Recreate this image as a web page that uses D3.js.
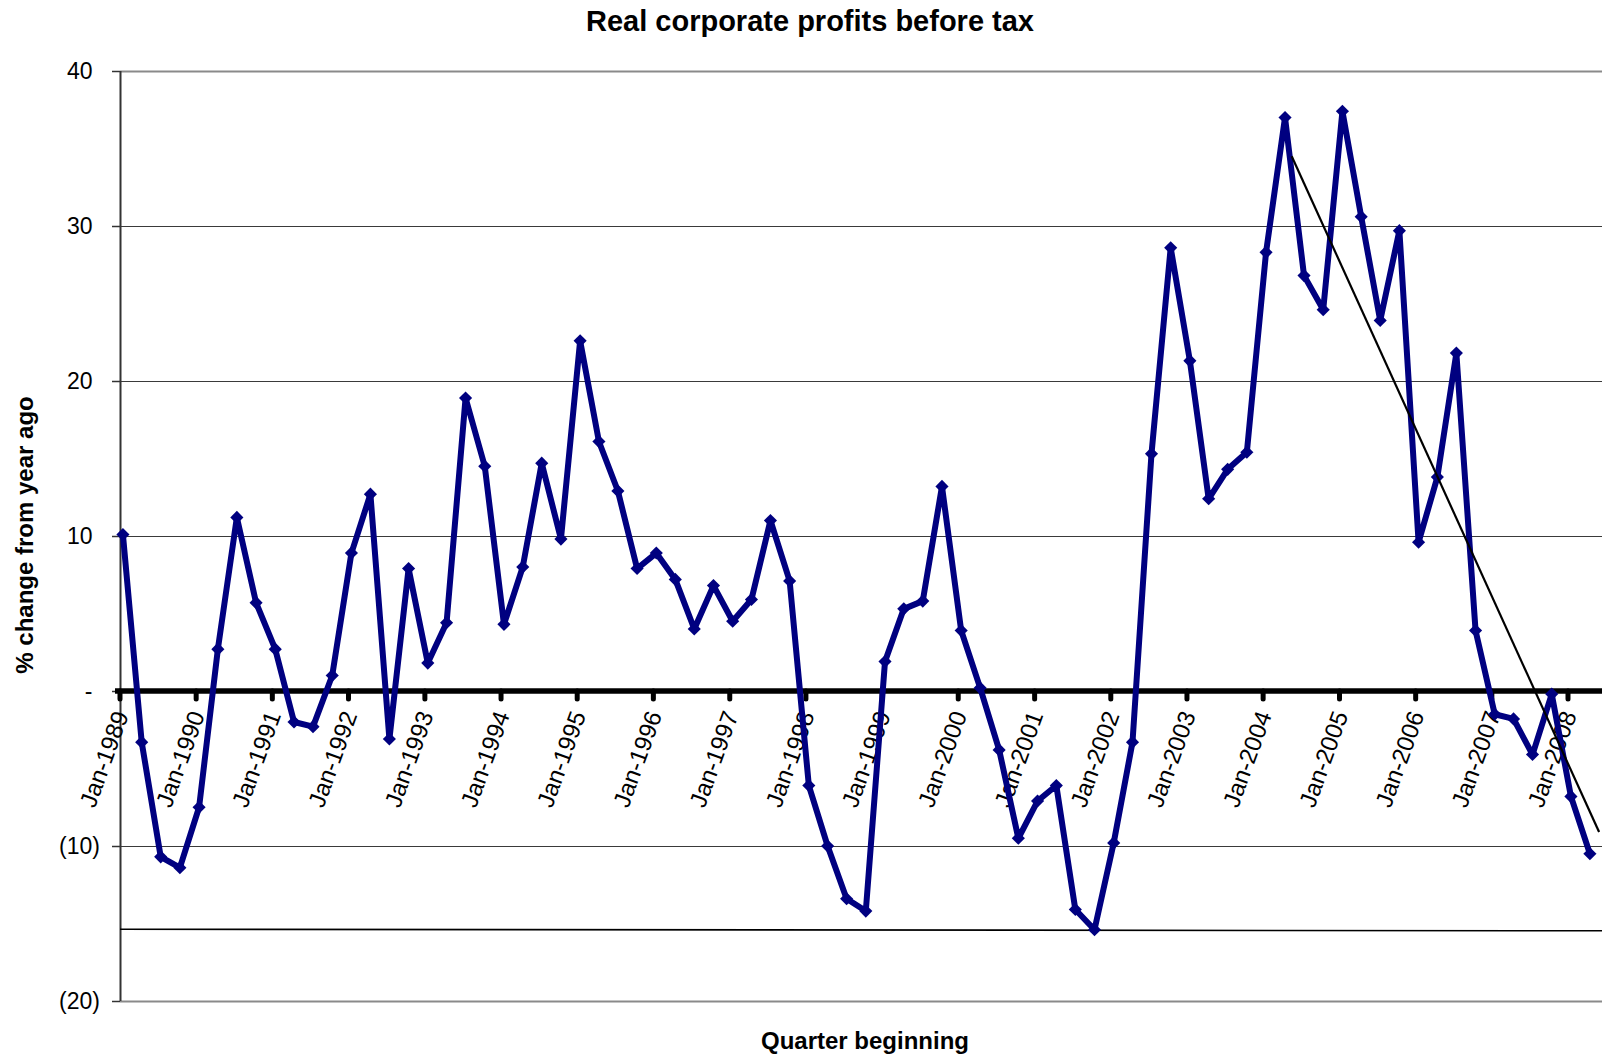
<!DOCTYPE html>
<html>
<head>
<meta charset="utf-8">
<script src="https://cdn.jsdelivr.net/npm/d3@7"></script>
<style>
  body { margin: 0; background: #fff; }
  svg { display: block; font-family: Arial, "Liberation Sans", sans-serif; }
</style>
</head>
<body>
<div id="chart"></div>
<script>
// quarterly % change from year ago, one value per quarter from Jan-1989 to Apr-2008
var values = [
  10.1, -3.3, -10.7, -11.4, -7.5, 2.7, 11.2, 5.7, 2.7, -2.0,
  -2.3, 1.0, 8.9, 12.7, -3.1, 7.9, 1.8, 4.4, 18.9, 14.5,
  4.3, 8.0, 14.7, 9.8, 22.6, 16.1, 12.9, 7.9, 8.9, 7.2,
  4.0, 6.8, 4.5, 5.9, 11.0, 7.1, -6.1, -10.0, -13.4, -14.2,
  1.9, 5.3, 5.8, 13.2, 3.9, 0.2, -3.8, -9.5, -7.1, -6.1,
  -14.1, -15.4, -9.8, -3.3, 15.3, 28.6, 21.3, 12.4, 14.3, 15.4,
  28.3, 37.0, 26.8, 24.6, 37.4, 30.6, 23.9, 29.7, 9.6, 13.8,
  21.8, 3.9, -1.5, -1.8, -4.1, -0.2, -6.8, -10.5
];

var tickLabels = [
  "Jan-1989", "Jan-1990", "Jan-1991", "Jan-1992", "Jan-1993",
  "Jan-1994", "Jan-1995", "Jan-1996", "Jan-1997", "Jan-1998",
  "Jan-1999", "Jan-2000", "Jan-2001", "Jan-2002", "Jan-2003",
  "Jan-2004", "Jan-2005", "Jan-2006", "Jan-2007", "Jan-2008"
];

var yTicks = [40, 30, 20, 10, 0, -10, -20];

// straight lines drawn over the chart (date, value)
var trendLine = [{date: "2004-05-17", v: 34.5}, {date: "2008-05-29", v: -9.1}];
var floorLine = [{date: "1989-01-01", v: -15.37}, {date: "2008-06-13", v: -15.47}];

var width = 1602;
var height = 1056;
var parse = d3.timeParse("%Y-%m-%d");

var svg = d3.select("#chart")
  .append("svg")
    .attr("width", width)
    .attr("height", height);

var x = d3.scaleTime()
  .domain([parse("1989-01-01"), parse("2008-01-01")])
  .range([120, 1568]);

var y = d3.scaleLinear()
  .domain([-20, 40])
  .range([1001, 71]);

function fmt(v) {
  if (v === 0) return "-";
  if (v < 0) return "(" + Math.abs(v) + ")";
  return String(v);
}

// points dated mid first month of each quarter
var pts = values.map(function (v, i) {
  return {date: d3.timeMonth.offset(parse("1989-01-15"), 3 * i), v: v};
});
var tickDates = tickLabels.map(function (d, i) {
  return d3.timeYear.offset(parse("1989-01-01"), i);
});
trendLine.forEach(function (d) { d.date = parse(d.date); });
floorLine.forEach(function (d) { d.date = parse(d.date); });

// gridlines
svg.append("g")
  .selectAll("line")
  .data(yTicks.filter(function (d) { return d !== 0; }))
  .enter()
  .append("line")
    .attr("x1", x.range()[0])
    .attr("x2", width)
    .attr("y1", function (d) { return y(d) + 0.5; })
    .attr("y2", function (d) { return y(d) + 0.5; })
    .attr("stroke", function (d) { return (d === 40 || d === -20) ? "#8a8a8a" : "#3a3a3a"; })
    .attr("stroke-width", function (d) { return (d === 40 || d === -20) ? 2 : 1; });

// y axis
var x0 = x.range()[0];
svg.append("line")
  .attr("x1", x0 + 0.5)
  .attr("x2", x0 + 0.5)
  .attr("y1", y(40))
  .attr("y2", y(-20))
  .attr("stroke", "#333")
  .attr("stroke-width", 2);

svg.append("g")
  .selectAll("line")
  .data(yTicks)
  .enter()
  .append("line")
    .attr("x1", x0 - 8)
    .attr("x2", x0)
    .attr("y1", function (d) { return y(d) + 0.5; })
    .attr("y2", function (d) { return y(d) + 0.5; })
    .attr("stroke", "#333")
    .attr("stroke-width", 1.5);

svg.append("g")
  .selectAll("text")
  .data(yTicks)
  .enter()
  .append("text")
    .attr("x", function (d) { return d < 0 ? 100 : 92.5; })
    .attr("y", function (d) { return y(d); })
    .attr("dy", "0.36em")
    .attr("text-anchor", "end")
    .style("font-size", "23px")
    .style("fill", "#000")
    .text(fmt);

var line = d3.line()
  .x(function (d) { return x(d.date); })
  .y(function (d) { return y(d.v); });

// floor line
svg.append("path")
  .datum(floorLine)
  .attr("d", line)
  .attr("fill", "none")
  .attr("stroke", "#000")
  .attr("stroke-width", 1.6);

// x axis (zero line) with round ticks
svg.append("line")
  .attr("x1", x0 - 5)
  .attr("x2", width)
  .attr("y1", y(0))
  .attr("y2", y(0))
  .attr("stroke", "#000")
  .attr("stroke-width", 5.5);

svg.append("g")
  .selectAll("line")
  .data(tickDates)
  .enter()
  .append("line")
    .attr("x1", function (d) { return x(d); })
    .attr("x2", function (d) { return x(d); })
    .attr("y1", y(0))
    .attr("y2", y(0) + 8)
    .attr("stroke", "#000")
    .attr("stroke-width", 5)
    .attr("stroke-linecap", "round");

svg.append("g")
  .selectAll("text")
  .data(tickLabels)
  .enter()
  .append("text")
    .attr("transform", function (d, i) {
      return "translate(" + (x(tickDates[i]) + 9) + "," + (y(0) + 24) + ") rotate(-70)";
    })
    .attr("text-anchor", "end")
    .style("font-size", "24px")
    .style("fill", "#000")
    .text(function (d) { return d; });

// series
svg.append("path")
  .datum(pts)
  .attr("d", line)
  .attr("fill", "none")
  .attr("stroke", "#000080")
  .attr("stroke-width", 6)
  .attr("stroke-linejoin", "round");

svg.append("g")
  .selectAll("path")
  .data(pts)
  .enter()
  .append("path")
    .attr("transform", function (d) { return "translate(" + x(d.date) + "," + y(d.v) + ")"; })
    .attr("d", d3.symbol().type(d3.symbolDiamond2).size(110))
    .attr("fill", "#000080");

// trend line
svg.append("path")
  .datum(trendLine)
  .attr("d", line)
  .attr("fill", "none")
  .attr("stroke", "#000")
  .attr("stroke-width", 2.2);

// titles
svg.append("text")
  .attr("x", 810)
  .attr("y", 31)
  .attr("text-anchor", "middle")
  .style("font-size", "29px")
  .style("font-weight", "bold")
  .text("Real corporate profits before tax");

svg.append("text")
  .attr("x", 865)
  .attr("y", 1049)
  .attr("text-anchor", "middle")
  .style("font-size", "24px")
  .style("font-weight", "bold")
  .text("Quarter beginning");

svg.append("text")
  .attr("transform", "translate(33,535) rotate(-90)")
  .attr("text-anchor", "middle")
  .style("font-size", "24px")
  .style("font-weight", "bold")
  .text("% change from year ago");
</script>
</body>
</html>
